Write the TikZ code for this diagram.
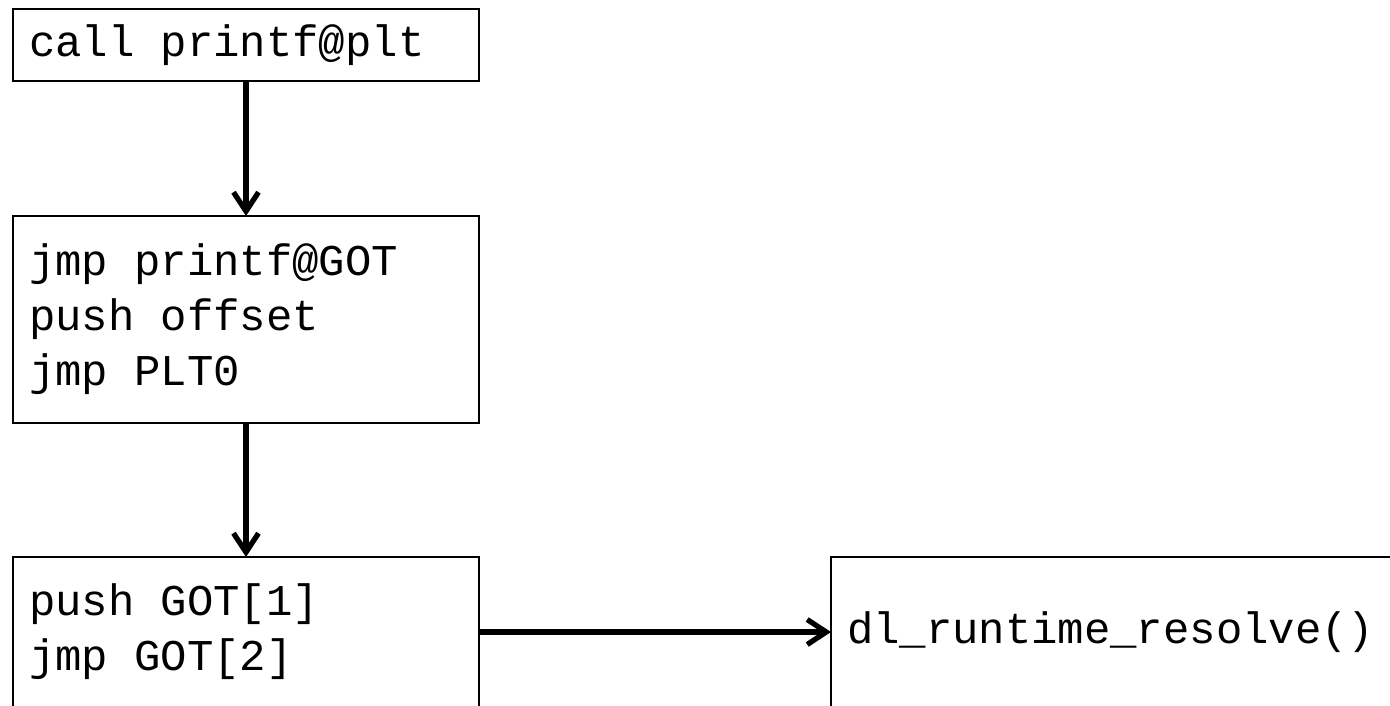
\documentclass[tikz,border=0pt]{standalone}
\usepackage{fontspec}
\setmonofont{Liberation Mono}
\usetikzlibrary{arrows.meta,positioning}

\DeclareRobustCommand{\codefont}{\ttfamily\fontsize{25}{31.3}\selectfont}
\newcommand{\gap}{\hspace*{0.6em}}

\begin{document}
\begin{tikzpicture}[
		block/.style={draw, line width=1.5pt, inner xsep=0.32cm, outer sep=0pt, font=\codefont},
		flow/.style={line width=3pt, -{Straight Barb[length=0.38cm, width=0.5cm]}}
	]
		\useasboundingbox (0,0) rectangle (27.8,-14.1);

		\node[block, text width=8.68cm, minimum height=1.44cm] (plt) at (4.92,-0.9) {call\gap printf@plt};
		\node[block, text width=8.68cm, minimum height=4.14cm, below=2.7cm of plt] (stub) {jmp\gap printf@GOT\\push\gap offset\\jmp\gap PLT0};
		\node[block, text width=8.68cm, minimum height=3cm, below=2.68cm of stub] (res) {push\gap GOT[1]\\jmp\gap GOT[2]};
		\node[block, text width=11.36cm, minimum height=3cm, right=7.04cm of res] (rslv) {dl\_runtime\_resolve()};

		\draw[flow] (plt) -- (stub);
		\draw[flow] (stub) -- (res);
		\draw[flow] (res) -- (rslv);
	\end{tikzpicture}
\end{document}
